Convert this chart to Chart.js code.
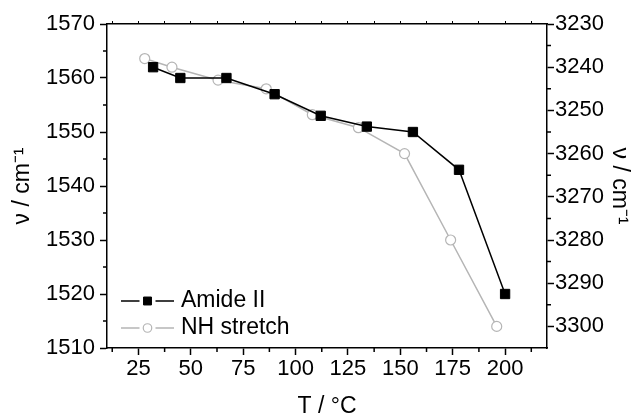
<!DOCTYPE html>
<html>
<head>
<meta charset="utf-8">
<script src="https://cdn.jsdelivr.net/npm/chart.js@4/dist/chart.umd.min.js"></script>
<style>
  body { margin: 0; background: #fff; }
  canvas { display: block; }
</style>
</head>
<body>
<canvas id="grafico" width="632" height="416"></canvas>
<script>
// valores
const tempAmide = [32, 45, 67, 90, 112, 134, 156, 178, 200];
const amideII = [1562, 1560, 1560, 1557, 1553, 1551, 1550, 1543, 1520];
const tempNH = [28, 41, 63, 86, 108, 130, 152, 174, 196];
const nhStretch = [3238, 3240, 3243, 3245, 3251, 3254, 3260, 3280, 3300];

const xTicks = [25, 50, 75, 100, 125, 150, 175, 200];
const leftTicks = [1510, 1520, 1530, 1540, 1550, 1560, 1570];
const rightTicks = [3230, 3240, 3250, 3260, 3270, 3280, 3290, 3300];

const FONTE = "'Liberation Sans', Arial, sans-serif";
const CINZA = '#b5b5b5';
Chart.defaults.font.family = FONTE;
Chart.defaults.color = '#000';

function pontos(xs, ys) {
    return xs.map((x, i) => ({ x: x, y: ys[i] }));
}

// meio-passos entre os ticks principais
function minores(ticks, min, max) {
    const passo = ticks[1] - ticks[0];
    const res = [];
    for (let v = ticks[0] - passo / 2; v <= max; v += passo) {
        if (v >= min) res.push(v);
    }
    return res;
}

// rótulos sem separador de milhar
const semSeparador = v => String(v);

/**
 * Desenha os ticks menores para fora dos eixos.
 */
const ticksMenores = {
    id: 'ticksMenores',
    afterDraw(chart) {
        const ctx = chart.ctx;
        const { x, y, y2 } = chart.scales;
        const area = chart.chartArea;
        const len = 4;
        ctx.save();
        ctx.strokeStyle = '#000';
        ctx.lineWidth = 1.5;
        ctx.beginPath();
        minores(xTicks, x.min, x.max).forEach(v => {
            const px = x.getPixelForValue(v);
            ctx.moveTo(px, area.bottom);
            ctx.lineTo(px, area.bottom + len);
        });
        minores(leftTicks, y.min, y.max).forEach(v => {
            const py = y.getPixelForValue(v);
            ctx.moveTo(area.left, py);
            ctx.lineTo(area.left - len, py);
        });
        minores(rightTicks, y2.min, 3300).forEach(v => {
            const py = y2.getPixelForValue(v);
            ctx.moveTo(area.right, py);
            ctx.lineTo(area.right + len, py);
        });
        ctx.stroke();
        ctx.restore();
    }
};

/**
 * Legenda no estilo "—■—" dentro da área do gráfico.
 */
const legendaInterna = {
    id: 'legendaInterna',
    afterDraw(chart) {
        const ctx = chart.ctx;
        const area = chart.chartArea;
        const x0 = area.left + 14;
        const x1 = area.left + 67;
        const meio = (x0 + x1) / 2;
        const folga = 8;
        const linhas = [area.bottom - 47, area.bottom - 20];
        ctx.save();
        chart.data.datasets.forEach((ds, i) => {
            const yy = linhas[i];
            ctx.strokeStyle = ds.borderColor;
            ctx.lineWidth = ds.borderWidth;
            ctx.beginPath();
            ctx.moveTo(x0, yy);
            ctx.lineTo(meio - folga, yy);
            ctx.moveTo(meio + folga, yy);
            ctx.lineTo(x1, yy);
            ctx.stroke();
            ctx.fillStyle = ds.pointBackgroundColor;
            ctx.strokeStyle = ds.pointBorderColor;
            ctx.lineWidth = ds.pointBorderWidth;
            Chart.helpers.drawPoint(ctx, {
                pointStyle: ds.pointStyle,
                radius: ds.pointRadius * 0.85,
                rotation: 0,
                borderWidth: ds.pointBorderWidth
            }, meio, yy);
            ctx.fillStyle = '#000';
            ctx.font = '23px ' + FONTE;
            ctx.textAlign = 'left';
            ctx.textBaseline = 'middle';
            ctx.fillText(ds.label, x1 + 7, yy);
        });
        ctx.restore();
    }
};

const eixoBorda = { display: true, color: '#000', width: 1.5 };

const chartConfig = {
    type: 'line',
    data: {
        datasets: [{
            label: 'Amide II',
            data: pontos(tempAmide, amideII),
            yAxisID: 'y',
            borderColor: '#000',
            borderWidth: 1.5,
            pointStyle: 'rect',
            pointRadius: 6.6,
            pointHoverRadius: 6.6,
            pointBackgroundColor: '#000',
            pointBorderColor: '#000',
            pointBorderWidth: 1
        }, {
            label: 'NH stretch',
            data: pontos(tempNH, nhStretch),
            yAxisID: 'y2',
            borderColor: CINZA,
            borderWidth: 1.5,
            pointStyle: 'circle',
            pointRadius: 5,
            pointHoverRadius: 5,
            pointBackgroundColor: '#fff',
            pointBorderColor: CINZA,
            pointBorderWidth: 1.2
        }]
    },
    options: {
        responsive: false,
        animation: false,
        layout: { padding: 0 },
        plugins: {
            legend: { display: false },
            tooltip: { enabled: false }
        },
        scales: {
            x: {
                type: 'linear',
                position: 'bottom',
                min: 10,
                max: 220,
                afterBuildTicks: s => { s.ticks = xTicks.map(v => ({ value: v })); },
                afterFit: s => { s.height = 68; },
                border: eixoBorda,
                grid: { drawOnChartArea: false, tickLength: 7, tickWidth: 1.5, tickColor: '#000' },
                ticks: { font: { size: 22 }, padding: 1, maxRotation: 0, autoSkip: false, callback: semSeparador },
                title: {
                    display: true,
                    text: 'T / °C',
                    font: { size: 23, lineHeight: 1 },
                    padding: { top: 0, bottom: -2 }
                }
            },
            xTopo: {
                type: 'linear',
                position: 'top',
                min: 10,
                max: 220,
                afterBuildTicks: s => {
                    s.ticks = minores(xTicks, 10, 220).concat(xTicks).map(v => ({ value: v }));
                },
                afterFit: s => { s.height = 24; },
                border: eixoBorda,
                grid: { drawOnChartArea: false, tickLength: 3, tickWidth: 1, tickColor: '#000' },
                ticks: { display: false }
            },
            y: {
                position: 'left',
                min: 1510,
                max: 1570,
                afterBuildTicks: s => { s.ticks = leftTicks.map(v => ({ value: v })); },
                afterFit: s => { s.width = 107; },
                border: eixoBorda,
                grid: { drawOnChartArea: false, tickLength: 7, tickWidth: 1.5, tickColor: '#000' },
                ticks: { font: { size: 22 }, padding: 5, callback: semSeparador },
                title: {
                    display: true,
                    text: 'ν / cm⁻¹',
                    font: { size: 23, lineHeight: 1 },
                    padding: { top: 11, bottom: 0 }
                }
            },
            y2: {
                position: 'right',
                reverse: true,
                min: 3230,
                max: 3305,
                afterBuildTicks: s => { s.ticks = rightTicks.map(v => ({ value: v })); },
                afterFit: s => { s.width = 85; },
                border: eixoBorda,
                grid: { drawOnChartArea: false, tickLength: 7, tickWidth: 1.5, tickColor: '#000' },
                ticks: { font: { size: 22 }, padding: 1, callback: semSeparador },
                title: {
                    display: true,
                    text: 'ν / cm⁻¹',
                    font: { size: 23, lineHeight: 1 },
                    padding: { top: 1, bottom: 0 }
                }
            }
        }
    },
    plugins: [ticksMenores, legendaInterna]
};

try {
    new Chart(document.getElementById('grafico'), chartConfig);
} catch (error) {
    console.error('Erro ao criar gráfico:', error);
}
</script>
</body>
</html>
